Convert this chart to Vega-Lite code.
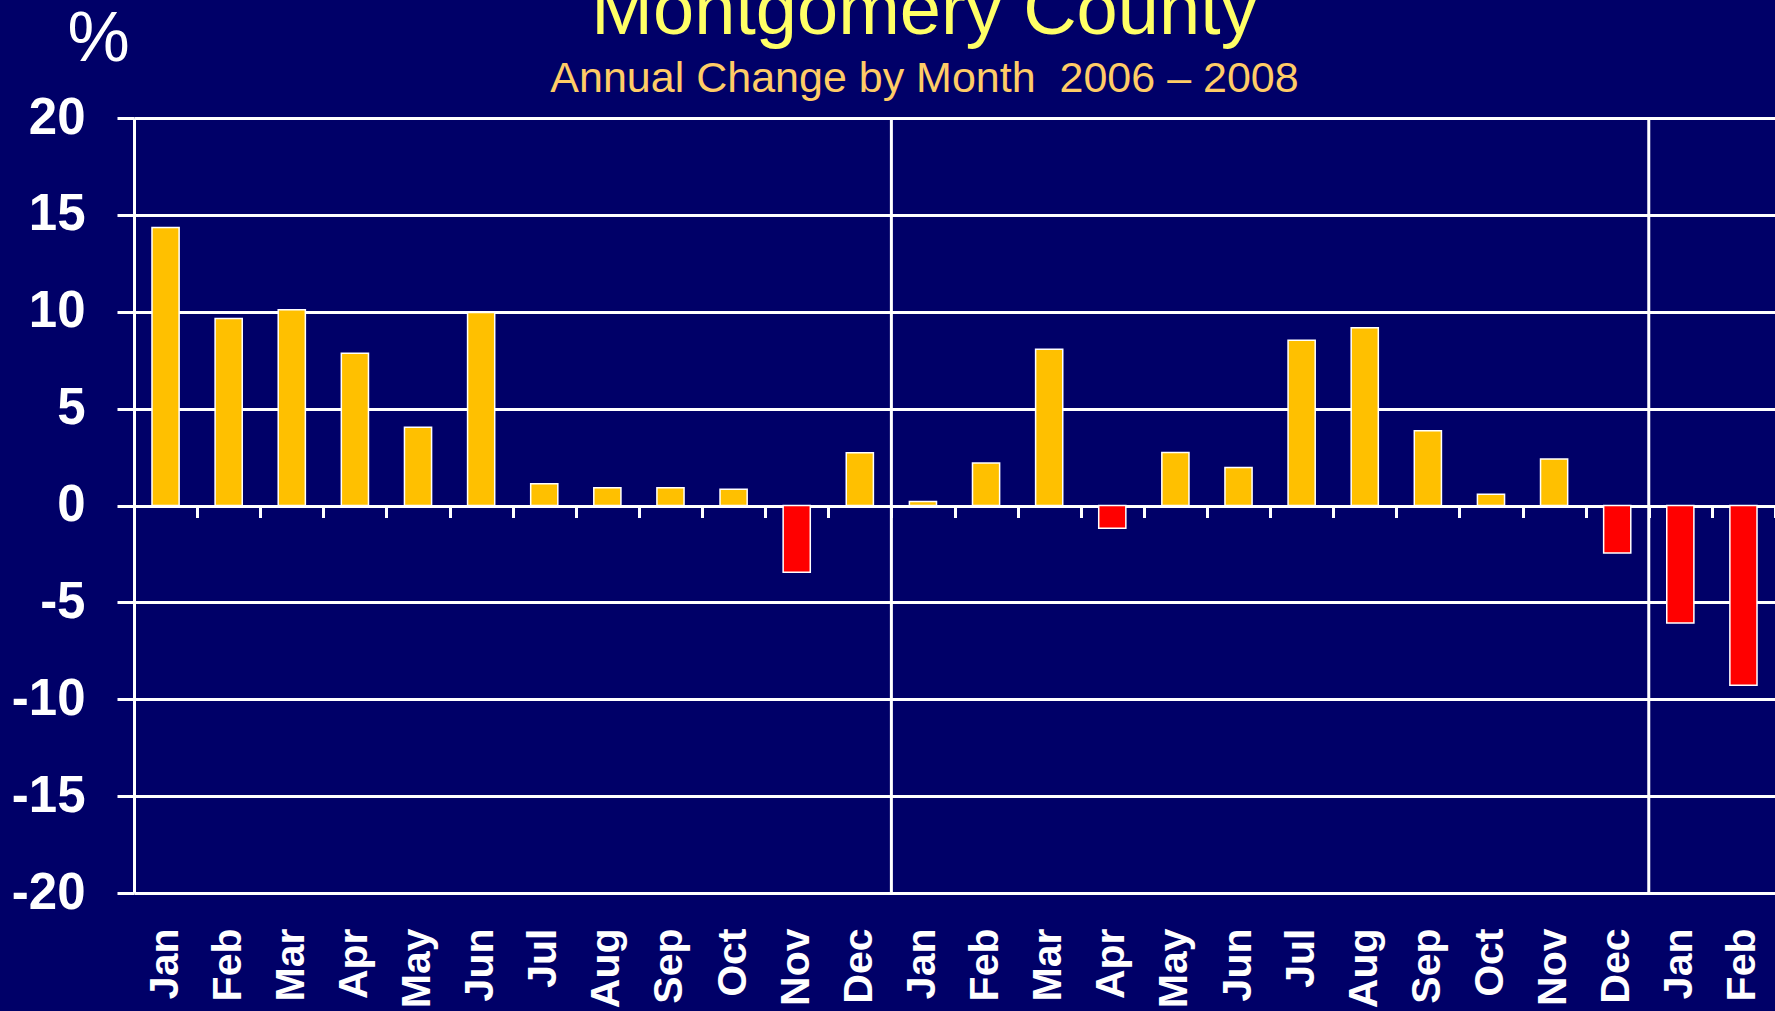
{
  "$schema": "https://vega.github.io/schema/vega-lite/v6.json",
  "autosize": {"type": "none"},
  "padding": {"left": 134, "top": 118, "right": 0, "bottom": 118},
  "width": 1641,
  "height": 775,
  "background": "#000068",
  "config": {"view": {"stroke": null}, "font": "Liberation Sans"},
  "title": {
    "text": "Montgomery County",
    "subtitle": "Annual Change by Month\u00a0 2006 – 2008",
    "color": "#FFFF66",
    "fontSize": 74,
    "font": "Liberation Sans",
    "fontWeight": "normal",
    "subtitleColor": "#FFCC66",
    "subtitleFontSize": 43,
    "subtitleFont": "Liberation Sans",
    "subtitleFontWeight": "normal",
    "subtitlePadding": 8,
    "offset": -98,
    "anchor": "middle",
    "dx": -30
  },
  "data": {
    "values": [
      {"period": "Jan 2006", "month": "Jan", "year": 2006, "value": 14.35},
      {"period": "Feb 2006", "month": "Feb", "year": 2006, "value": 9.65},
      {"period": "Mar 2006", "month": "Mar", "year": 2006, "value": 10.1},
      {"period": "Apr 2006", "month": "Apr", "year": 2006, "value": 7.86},
      {"period": "May 2006", "month": "May", "year": 2006, "value": 4.04},
      {"period": "Jun 2006", "month": "Jun", "year": 2006, "value": 9.96},
      {"period": "Jul 2006", "month": "Jul", "year": 2006, "value": 1.12},
      {"period": "Aug 2006", "month": "Aug", "year": 2006, "value": 0.91},
      {"period": "Sep 2006", "month": "Sep", "year": 2006, "value": 0.91},
      {"period": "Oct 2006", "month": "Oct", "year": 2006, "value": 0.84},
      {"period": "Nov 2006", "month": "Nov", "year": 2006, "value": -3.45},
      {"period": "Dec 2006", "month": "Dec", "year": 2006, "value": 2.72},
      {"period": "Jan 2007", "month": "Jan", "year": 2007, "value": 0.21},
      {"period": "Feb 2007", "month": "Feb", "year": 2007, "value": 2.2},
      {"period": "Mar 2007", "month": "Mar", "year": 2007, "value": 8.06},
      {"period": "Apr 2007", "month": "Apr", "year": 2007, "value": -1.17},
      {"period": "May 2007", "month": "May", "year": 2007, "value": 2.74},
      {"period": "Jun 2007", "month": "Jun", "year": 2007, "value": 1.96},
      {"period": "Jul 2007", "month": "Jul", "year": 2007, "value": 8.53},
      {"period": "Aug 2007", "month": "Aug", "year": 2007, "value": 9.18},
      {"period": "Sep 2007", "month": "Sep", "year": 2007, "value": 3.86},
      {"period": "Oct 2007", "month": "Oct", "year": 2007, "value": 0.58},
      {"period": "Nov 2007", "month": "Nov", "year": 2007, "value": 2.4},
      {"period": "Dec 2007", "month": "Dec", "year": 2007, "value": -2.45},
      {"period": "Jan 2008", "month": "Jan", "year": 2008, "value": -6.06},
      {"period": "Feb 2008", "month": "Feb", "year": 2008, "value": -9.28}
    ]
  },
  "resolve": {"axis": {"x": "independent"}},
  "layer": [
    {
      "mark": {"type": "bar", "stroke": "#ffffff", "strokeWidth": 1.5, "width": {"band": 0.43}},
      "encoding": {
        "x": {
          "field": "period",
          "type": "nominal",
          "sort": null,
          "scale": {
            "domain": ["Jan 2006","Feb 2006","Mar 2006","Apr 2006","May 2006","Jun 2006","Jul 2006","Aug 2006","Sep 2006","Oct 2006","Nov 2006","Dec 2006","Jan 2007","Feb 2007","Mar 2007","Apr 2007","May 2007","Jun 2007","Jul 2007","Aug 2007","Sep 2007","Oct 2007","Nov 2007","Dec 2007","Jan 2008","Feb 2008"],
            "paddingInner": 0,
            "paddingOuter": 0
          },
          "axis": {
            "orient": "bottom",
            "title": null,
            "labelExpr": "split(datum.label, ' ')[0]",
            "labelAngle": -90,
            "labelFont": "Liberation Sans",
            "labelFontWeight": "bold",
            "labelFontSize": 41,
            "labelColor": "#ffffff",
            "labelPadding": 35,
            "ticks": false,
            "tickSize": 0,
            "domain": false,
            "grid": false
          }
        },
        "y": {
          "field": "value",
          "type": "quantitative",
          "scale": {"domain": [-20, 20], "nice": false},
          "axis": {
            "values": [-20, -15, -10, -5, 0, 5, 10, 15, 20],
            "labelExpr": "replace(datum.label, '\u2212', '-')",
            "title": "%",
            "titleAngle": 0,
            "titleAlign": "center",
            "titleBaseline": "alphabetic",
            "titleX": -36,
            "titleY": -58,
            "titleFont": "Liberation Sans",
            "titleFontWeight": "normal",
            "titleFontSize": 70,
            "titleColor": "#ffffff",
            "labelFont": "Liberation Sans",
            "labelFontWeight": "bold",
            "labelFontSize": 51,
            "labelColor": "#ffffff",
            "labelPadding": 32,
            "labelBaseline": "middle",
            "tickSize": 17,
            "tickWidth": 3,
            "tickColor": "#ffffff",
            "domainColor": "#ffffff",
            "domainWidth": 3,
            "grid": true,
            "gridColor": "#ffffff",
            "gridWidth": 3,
            "gridOpacity": 1
          }
        },
        "color": {"condition": {"test": "datum.value < 0", "value": "#FF0000"}, "value": "#FFC000"}
      }
    },
    {
      "transform": [{"filter": "datum.month == 'Jan' && datum.year > 2006"}],
      "mark": {"type": "rule", "color": "#ffffff", "strokeWidth": 3},
      "encoding": {
        "x": {
          "field": "period",
          "type": "nominal",
          "sort": null,
          "bandPosition": 0,
          "axis": {
            "orient": "bottom",
            "offset": -387.5,
            "title": null,
            "labels": false,
            "domain": false,
            "grid": false,
            "ticks": true,
            "tickBand": "extent",
            "tickSize": 12,
            "tickWidth": 3,
            "tickColor": "#ffffff"
          }
        }
      }
    }
  ]
}
